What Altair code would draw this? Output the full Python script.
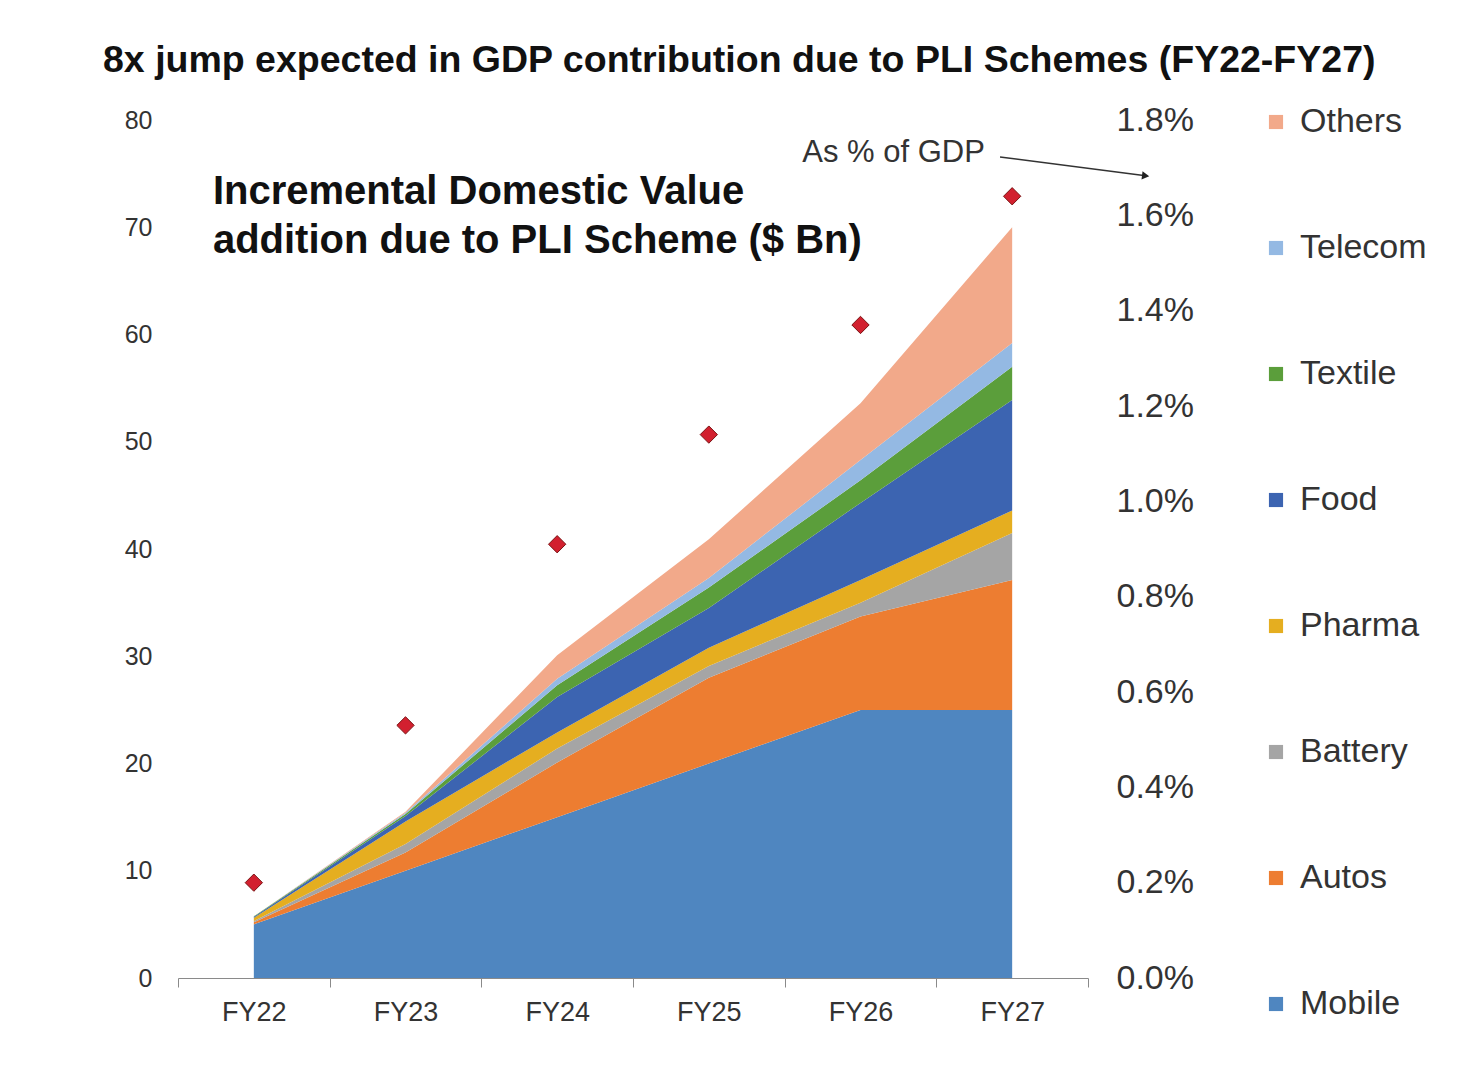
import altair as alt
import pandas as pd

years = ["FY22", "FY23", "FY24", "FY25", "FY26", "FY27"]
sectors = ["Mobile", "Autos", "Battery", "Pharma", "Food", "Textile", "Telecom", "Others"]
mobile = [5.0, 10.0, 15.0, 20.0, 25.0, 25.0]
autos = [0.2, 1.7, 5.1, 8.0, 8.7, 12.1]
battery = [0.1, 0.8, 1.3, 1.1, 1.3, 4.4]
pharma = [0.3, 2.1, 1.5, 1.7, 2.1, 2.1]
food = [0.1, 0.5, 3.3, 3.7, 7.2, 10.3]
textile = [0.05, 0.2, 1.1, 1.9, 2.1, 3.1]
telecom = [0.0, 0.1, 0.6, 0.9, 1.9, 2.2]
others = [0.0, 0.1, 2.2, 3.6, 5.3, 10.8]
gdp_pct = [0.0020, 0.0053, 0.0091, 0.0114, 0.0137, 0.0164]
sector_colors = ["#4F86C0", "#ED7D31", "#A5A5A5", "#E5AE20", "#3C64B1", "#5B9E3B", "#94B9E3", "#F2A98A"]

series = [mobile, autos, battery, pharma, food, textile, telecom, others]
rows = []
for si, (s, vals) in enumerate(zip(sectors, series)):
    for i, v in enumerate(vals):
        rows.append({"x": i + 0.5, "year": years[i], "sector": s, "value": v, "order": si})
df = pd.DataFrame(rows)
gdp_df = pd.DataFrame({"x": [i + 0.5 for i in range(len(years))], "year": years, "pct": gdp_pct})

legend_order = sectors[::-1]
legend_colors = sector_colors[::-1]

font = "Liberation Sans"
xscale = alt.Scale(domain=[0, 6], nice=False, zero=False)
yscale = alt.Scale(domain=[0, 80], nice=False)

label_array = "[" + ",".join("'" + y + "'" for y in years) + "]"
xaxis = alt.Axis(
    values=[i * 0.5 for i in range(13)],
    labelExpr="(datum.value % 1 == 0.5) ? " + label_array + "[floor(datum.value)] : ''",
    tickOpacity={"condition": {"test": "datum.value % 1 != 0", "value": 0}, "value": 1},
    title=None, grid=False, labelFontSize=27, labelColor="#333333", labelFont=font,
    domainColor="#8a8a8a", tickColor="#8a8a8a", tickSize=9, labelPadding=12,
    labelOverlap=False, labelFlush=False,
)

area = alt.Chart(df).mark_area(interpolate="linear").encode(
    x=alt.X("x:Q", scale=xscale, axis=xaxis),
    y=alt.Y("value:Q", stack="zero", scale=yscale,
            axis=alt.Axis(values=list(range(0, 81, 10)), title=None, grid=False, ticks=False,
                          domain=False, labelFontSize=25, labelColor="#333333", labelFont=font,
                          labelPadding=26)),
    color=alt.Color("sector:N", scale=alt.Scale(domain=legend_order, range=legend_colors),
                    sort=legend_order,
                    legend=alt.Legend(title=None, orient="none", legendX=1081, legendY=-15,
                                      symbolType="square", symbolSize=200, symbolStrokeWidth=0,
                                      labelFontSize=34, labelFont=font, labelColor="#333333",
                                      rowPadding=92, labelOffset=7)),
    order=alt.Order("order:Q", sort="ascending"),
)

notes = pd.DataFrame({
    "x": [0.23, 0.23],
    "y": [73.3, 68.7],
    "text": ["Incremental Domestic Value", "addition due to PLI Scheme ($ Bn)"],
})
note_text = alt.Chart(notes).mark_text(align="left", baseline="middle", fontSize=40,
                                       fontWeight="bold", font=font, color="#111111").encode(
    x=alt.X("x:Q", scale=xscale), y=alt.Y("y:Q", scale=yscale), text="text:N")

gdp_label = pd.DataFrame({"x": [5.32], "y": [76.9], "text": ["As % of GDP"]})
gdp_text = alt.Chart(gdp_label).mark_text(align="right", baseline="middle", fontSize=31,
                                          font=font, color="#333333").encode(
    x=alt.X("x:Q", scale=xscale), y=alt.Y("y:Q", scale=yscale), text="text:N")

arrow_df = pd.DataFrame({"x": [5.42], "x2": [6.38], "y": [76.55], "y2": [74.8]})
arrow = alt.Chart(arrow_df).mark_rule(color="#333333", strokeWidth=1.5, clip=False).encode(
    x=alt.X("x:Q", scale=xscale), x2="x2:Q", y=alt.Y("y:Q", scale=yscale), y2="y2:Q")
head = alt.Chart(arrow_df).mark_point(shape="triangle-right", filled=True, size=70,
                                      color="#222222", angle=7, clip=False, opacity=1).encode(
    x=alt.X("x2:Q", scale=xscale), y=alt.Y("y2:Q", scale=yscale))

left_layer = alt.layer(area, note_text, gdp_text, arrow, head)

diamonds = alt.Chart(gdp_df).mark_point(shape="diamond", filled=True, size=300, color="#D2202F",
                                        stroke="#7A1414", strokeWidth=1, opacity=1).encode(
    x=alt.X("x:Q", scale=xscale),
    y=alt.Y("pct:Q", scale=alt.Scale(domain=[0, 0.018], nice=False),
            axis=alt.Axis(orient="right", values=[round(i * 0.002, 3) for i in range(10)],
                          format=".1%", title=None, grid=False, ticks=False, domain=False,
                          labelFontSize=34, labelColor="#333333", labelFont=font,
                          labelPadding=28)),
)

chart = alt.layer(left_layer, diamonds).resolve_scale(y="independent").properties(
    width=910, height=858,
    autosize=alt.AutoSizeParams(type="none"),
    padding={"left": 170, "top": 112, "right": 350, "bottom": 85},
    title=alt.Title("8x jump expected in GDP contribution due to PLI Schemes (FY22-FY27)",
                    anchor="start", frame="group", dx=-75, offset=24, fontSize=37.5,
                    fontWeight="bold", font=font, color="#111111"),
).configure(background="white").configure_view(stroke=None, strokeWidth=0)

chart.save("out.html", embed_options={"renderer": "svg", "actions": False})
